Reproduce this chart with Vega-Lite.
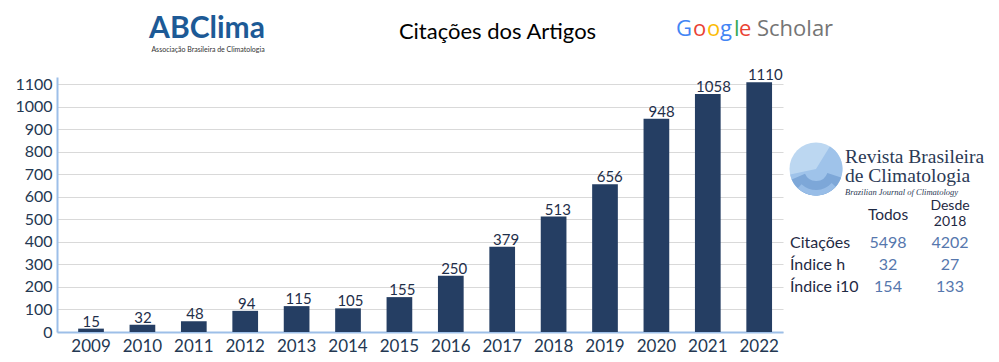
{
  "$schema": "https://vega.github.io/schema/vega-lite/v6.json",
  "width": 726,
  "height": 255,
  "autosize": {"type": "none"},
  "padding": {"left": 57, "top": 77, "right": 216, "bottom": 30},
  "background": "white",
  "config": {"view": {"stroke": null}, "text": {"font": "Lato"}},
  "datasets": {
    "cit": [
      {"year": "2009", "citations": 15},
      {"year": "2010", "citations": 32},
      {"year": "2011", "citations": 48},
      {"year": "2012", "citations": 94},
      {"year": "2013", "citations": 115},
      {"year": "2014", "citations": 105},
      {"year": "2015", "citations": 155},
      {"year": "2016", "citations": 250},
      {"year": "2017", "citations": 379},
      {"year": "2018", "citations": 513},
      {"year": "2019", "citations": 656},
      {"year": "2020", "citations": 948},
      {"year": "2021", "citations": 1058},
      {"year": "2022", "citations": 1110}
    ],
    "table": [
      {"row": "Citações", "col": "Todos", "v": "5498"},
      {"row": "Citações", "col": "Desde 2018", "v": "4202"},
      {"row": "Índice h", "col": "Todos", "v": "32"},
      {"row": "Índice h", "col": "Desde 2018", "v": "27"},
      {"row": "Índice i10", "col": "Todos", "v": "154"},
      {"row": "Índice i10", "col": "Desde 2018", "v": "133"}
    ],
    "rows": [{"row": "Citações"}, {"row": "Índice h"}, {"row": "Índice i10"}],
    "desde": [{"line": "Desde"}, {"line": "2018"}],
    "revista": [{"t": "Revista Brasileira"}, {"t": "de Climatologia"}]
  },
  "resolve": {"scale": {"x": "independent", "y": "independent"}},
  "layer": [
    {
      "data": {"name": "cit"},
      "mark": {"type": "bar", "color": "#253e63"},
      "encoding": {
        "x": {"field": "year", "type": "ordinal", "scale": {"paddingInner": 0.5, "paddingOuter": 0.3125, "align": 0.659},
          "axis": {"title": null, "labelAngle": 0, "labelFont": "Lato", "labelFontSize": 17, "labelColor": "#243852", "labelPadding": 6, "ticks": false, "domainColor": "#9dbfe8", "domainWidth": 2}},
        "y": {"field": "citations", "type": "quantitative", "scale": {"domain": [0, 1133], "nice": false, "zero": true},
          "axis": {"title": null, "format": "d", "values": [0, 100, 200, 300, 400, 500, 600, 700, 800, 900, 1000, 1100], "grid": true, "gridColor": "#d9d9d9", "gridWidth": 1.2, "ticks": false, "labelPadding": 5, "labelFont": "Lato", "labelFontSize": 16, "labelColor": "#243852", "domainColor": "#9dbfe8", "domainWidth": 2}}
      }
    },
    {
      "data": {"name": "cit"},
      "mark": {"type": "text", "baseline": "alphabetic", "dy": -2, "fontSize": 15, "color": "#1f2f4a"},
      "encoding": {
        "text": {"field": "citations", "type": "quantitative", "format": "d"},
        "x": {"field": "year", "type": "ordinal", "scale": {"paddingInner": 0.5, "paddingOuter": 0.3125, "align": 0.659}, "axis": null},
        "y": {"field": "citations", "type": "quantitative", "scale": {"domain": [0, 1133], "nice": false, "zero": true}, "axis": null}
      }
    },
    {
      "data": {"values": [{"t": "ABClima"}]},
      "mark": {"type": "text", "fontSize": 30, "fontWeight": "bold", "color": "#1d5a96", "align": "center", "baseline": "alphabetic"},
      "encoding": {
        "text": {"field": "t"},
        "x": {"field": "t", "type": "nominal", "scale": {"type": "point", "range": [150, 150]}, "axis": null},
        "y": {"field": "t", "type": "nominal", "scale": {"type": "point", "range": [-39, -39]}, "axis": null}
      }
    },
    {
      "data": {"values": [{"t": "Associação Brasileira de Climatologia"}]},
      "mark": {"type": "text", "fontSize": 7, "color": "#333333", "align": "center", "baseline": "alphabetic"},
      "encoding": {
        "text": {"field": "t"},
        "x": {"field": "t", "type": "nominal", "scale": {"type": "point", "range": [151, 151]}, "axis": null},
        "y": {"field": "t", "type": "nominal", "scale": {"type": "point", "range": [-25, -25]}, "axis": null}
      }
    },
    {
      "data": {"values": [{"t": "Citações dos Artigos"}]},
      "mark": {"type": "text", "fontSize": 22, "color": "#000000", "align": "center", "baseline": "alphabetic"},
      "encoding": {
        "text": {"field": "t"},
        "x": {"field": "t", "type": "nominal", "scale": {"type": "point", "range": [440.5, 440.5]}, "axis": null},
        "y": {"field": "t", "type": "nominal", "scale": {"type": "point", "range": [-37.7, -37.7]}, "axis": null}
      }
    },
    {
      "data": {"values": [{"t": "G"}]},
      "mark": {"type": "text", "font": "Open Sans", "fontSize": 22, "color": "#4285F4", "align": "left", "baseline": "alphabetic"},
      "encoding": {
        "text": {"field": "t"},
        "x": {"field": "t", "type": "nominal", "scale": {"type": "point", "range": [619, 619]}, "axis": null},
        "y": {"field": "t", "type": "nominal", "scale": {"type": "point", "range": [-41, -41]}, "axis": null}
      }
    },
    {
      "data": {"values": [{"t": "o"}]},
      "mark": {"type": "text", "font": "Open Sans", "fontSize": 22, "color": "#EA4335", "align": "left", "baseline": "alphabetic"},
      "encoding": {
        "text": {"field": "t"},
        "x": {"field": "t", "type": "nominal", "scale": {"type": "point", "range": [636, 636]}, "axis": null},
        "y": {"field": "t", "type": "nominal", "scale": {"type": "point", "range": [-41, -41]}, "axis": null}
      }
    },
    {
      "data": {"values": [{"t": "o"}]},
      "mark": {"type": "text", "font": "Open Sans", "fontSize": 22, "color": "#FBBC05", "align": "left", "baseline": "alphabetic"},
      "encoding": {
        "text": {"field": "t"},
        "x": {"field": "t", "type": "nominal", "scale": {"type": "point", "range": [650, 650]}, "axis": null},
        "y": {"field": "t", "type": "nominal", "scale": {"type": "point", "range": [-41, -41]}, "axis": null}
      }
    },
    {
      "data": {"values": [{"t": "g"}]},
      "mark": {"type": "text", "font": "Open Sans", "fontSize": 22, "color": "#4285F4", "align": "left", "baseline": "alphabetic"},
      "encoding": {
        "text": {"field": "t"},
        "x": {"field": "t", "type": "nominal", "scale": {"type": "point", "range": [663, 663]}, "axis": null},
        "y": {"field": "t", "type": "nominal", "scale": {"type": "point", "range": [-41, -41]}, "axis": null}
      }
    },
    {
      "data": {"values": [{"t": "l"}]},
      "mark": {"type": "text", "font": "Open Sans", "fontSize": 22, "color": "#34A853", "align": "left", "baseline": "alphabetic"},
      "encoding": {
        "text": {"field": "t"},
        "x": {"field": "t", "type": "nominal", "scale": {"type": "point", "range": [677, 677]}, "axis": null},
        "y": {"field": "t", "type": "nominal", "scale": {"type": "point", "range": [-41, -41]}, "axis": null}
      }
    },
    {
      "data": {"values": [{"t": "e"}]},
      "mark": {"type": "text", "font": "Open Sans", "fontSize": 22, "color": "#EA4335", "align": "left", "baseline": "alphabetic"},
      "encoding": {
        "text": {"field": "t"},
        "x": {"field": "t", "type": "nominal", "scale": {"type": "point", "range": [682, 682]}, "axis": null},
        "y": {"field": "t", "type": "nominal", "scale": {"type": "point", "range": [-41, -41]}, "axis": null}
      }
    },
    {
      "data": {"values": [{"t": "Scholar"}]},
      "mark": {"type": "text", "font": "Open Sans", "fontSize": 22, "color": "#757575", "align": "left", "baseline": "alphabetic"},
      "encoding": {
        "text": {"field": "t"},
        "x": {"field": "t", "type": "nominal", "scale": {"type": "point", "range": [700, 700]}, "axis": null},
        "y": {"field": "t", "type": "nominal", "scale": {"type": "point", "range": [-41, -41]}, "axis": null}
      }
    },
    {
      "data": {"values": [{"t": "logo"}]},
      "mark": {"type": "point", "shape": "circle", "filled": true, "size": 2809, "color": "#bcd7f1", "opacity": 1},
      "encoding": {
        "x": {"field": "t", "type": "nominal", "scale": {"type": "point", "range": [759, 759]}, "axis": null},
        "y": {"field": "t", "type": "nominal", "scale": {"type": "point", "range": [92, 92]}, "axis": null}
      }
    },
    {
      "data": {"values": [{"t": "logo"}]},
      "mark": {"type": "arc", "theta": 0.55, "theta2": 4.5, "outerRadius": 26.5, "innerRadius": 0, "color": "#9fc3ea"},
      "encoding": {
        "x": {"field": "t", "type": "nominal", "scale": {"type": "point", "range": [759, 759]}, "axis": null},
        "y": {"field": "t", "type": "nominal", "scale": {"type": "point", "range": [92, 92]}, "axis": null}
      }
    },
    {
      "data": {"values": [{"t": "logo"}]},
      "mark": {"type": "arc", "theta": 1.9, "theta2": 4.3, "outerRadius": 26.5, "innerRadius": 12, "color": "#7da7d8"},
      "encoding": {
        "x": {"field": "t", "type": "nominal", "scale": {"type": "point", "range": [759, 759]}, "axis": null},
        "y": {"field": "t", "type": "nominal", "scale": {"type": "point", "range": [92, 92]}, "axis": null}
      }
    },
    {
      "data": {"values": [{"t": "logo"}]},
      "mark": {"type": "arc", "theta": 2.3, "theta2": 3.9, "outerRadius": 26.5, "innerRadius": 21, "color": "#98bde7"},
      "encoding": {
        "x": {"field": "t", "type": "nominal", "scale": {"type": "point", "range": [759, 759]}, "axis": null},
        "y": {"field": "t", "type": "nominal", "scale": {"type": "point", "range": [92, 92]}, "axis": null}
      }
    },
    {
      "data": {"name": "revista"},
      "mark": {"type": "text", "font": "Liberation Serif", "fontSize": 19.5, "color": "#2b3a55", "align": "left", "baseline": "alphabetic"},
      "encoding": {
        "text": {"field": "t"},
        "x": {"datum": "revista", "type": "nominal", "scale": {"type": "point", "range": [788, 788]}, "axis": null},
        "y": {"field": "t", "type": "nominal", "sort": null, "scale": {"type": "point", "padding": 0, "range": [86, 105]}, "axis": null}
      }
    },
    {
      "data": {"values": [{"t": "Brazilian Journal of Climatology"}]},
      "mark": {"type": "text", "font": "Liberation Serif", "fontStyle": "italic", "fontSize": 8.5, "color": "#2b3a55", "align": "left", "baseline": "alphabetic"},
      "encoding": {
        "text": {"field": "t"},
        "x": {"field": "t", "type": "nominal", "scale": {"type": "point", "range": [788, 788]}, "axis": null},
        "y": {"field": "t", "type": "nominal", "scale": {"type": "point", "range": [117.5, 117.5]}, "axis": null}
      }
    },
    {
      "data": {"values": [{"t": "Todos"}]},
      "mark": {"type": "text", "fontSize": 15.5, "color": "#1f2a44", "align": "center", "baseline": "alphabetic"},
      "encoding": {
        "text": {"field": "t"},
        "x": {"field": "t", "type": "nominal", "scale": {"type": "point", "range": [831, 831]}, "axis": null},
        "y": {"field": "t", "type": "nominal", "scale": {"type": "point", "range": [143, 143]}, "axis": null}
      }
    },
    {
      "data": {"name": "desde"},
      "mark": {"type": "text", "fontSize": 14, "color": "#1f2a44", "align": "center", "baseline": "alphabetic"},
      "encoding": {
        "text": {"field": "line"},
        "x": {"datum": "Desde 2018", "type": "nominal", "scale": {"type": "point", "range": [893, 893]}, "axis": null},
        "y": {"field": "line", "type": "nominal", "sort": ["Desde", "2018"], "scale": {"type": "point", "padding": 0, "range": [133, 149]}, "axis": null}
      }
    },
    {
      "data": {"name": "rows"},
      "mark": {"type": "text", "fontSize": 16, "color": "#1f2a44", "align": "left", "baseline": "alphabetic"},
      "encoding": {
        "text": {"field": "row"},
        "x": {"datum": "label", "type": "nominal", "scale": {"type": "point", "range": [733, 733]}, "axis": null},
        "y": {"field": "row", "type": "nominal", "sort": ["Citações", "Índice h", "Índice i10"], "scale": {"type": "point", "padding": 0, "range": [171, 214.7]}, "axis": null}
      }
    },
    {
      "data": {"name": "table"},
      "mark": {"type": "text", "fontSize": 16, "color": "#5677ad", "align": "center", "baseline": "alphabetic"},
      "encoding": {
        "text": {"field": "v"},
        "x": {"field": "col", "type": "nominal", "sort": ["Todos", "Desde 2018"], "scale": {"type": "point", "padding": 0, "range": [831, 893]}, "axis": null},
        "y": {"field": "row", "type": "nominal", "sort": ["Citações", "Índice h", "Índice i10"], "scale": {"type": "point", "padding": 0, "range": [171, 214.7]}, "axis": null}
      }
    }
  ]
}
